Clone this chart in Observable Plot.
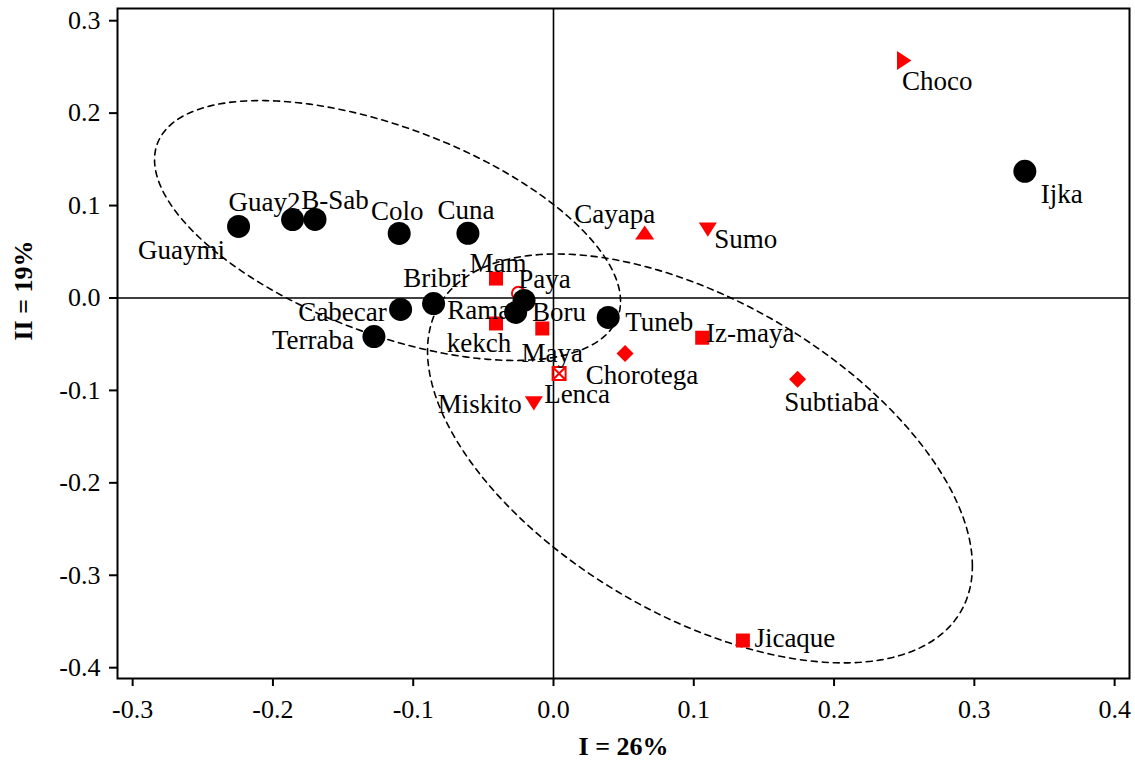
<!DOCTYPE html>
<html>
<head>
<meta charset="utf-8">
<script src="https://cdn.jsdelivr.net/npm/d3@7"></script>
<script src="https://cdn.jsdelivr.net/npm/@observablehq/plot@0.6"></script>
<style>
  html, body { margin: 0; padding: 0; background: #fff; }
  #chart svg { display: block; }
  #chart svg, #chart svg text { font-family: "Liberation Serif", "Times New Roman", Times, serif !important; }
</style>
</head>
<body>
<div id="chart"></div>
<script>
// ---- data ----
const names   = ["Guaymi","Guay2","B-Sab","Colo","Cuna","Cabecar","Bribri","Terraba","Rama","Boru","Tuneb","Ijka",
                 "Mam","Paya","kekch","Maya","Lenca","Miskito","Chorotega","Subtiaba","Iz-maya","Jicaque","Cayapa","Sumo","Choco"];
const xValues = [-0.2245,-0.186,-0.170,-0.110,-0.061,-0.109,-0.0855,-0.128,-0.027,-0.021,0.039,0.336,
                 -0.041,-0.025,-0.041,-0.008,0.004,-0.014,0.051,0.174,0.106,0.135,0.065,0.110,0.250];
const yValues = [0.0774,0.0849,0.085,0.0698,0.070,-0.0124,-0.006,-0.0417,-0.0157,-0.0027,-0.021,0.137,
                 0.021,0.005,-0.0276,-0.033,-0.0817,-0.114,-0.060,-0.088,-0.043,-0.3706,0.0709,0.074,0.257];
const groups  = ["circle","circle","circle","circle","circle","circle","circle","circle","circle","circle","circle","circle",
                 "square","openCircle","square","square","boxX","downTri","diamond","diamond","square","square","upTri","downTri","rightTri"];
// label placement relative to the marker (screen px)
const labelPlacement = [[-57,24],[-28,-17],[20,-19],[-2,-22],[-2,-23],[-58,3],[2,-25],[-61,4],[-37,-2],[35,12],[51,5],[37,23],
                        [2,-15],[26,-14],[-17,20],[10,25],[18,21],[-54,1],[17,22],[34,23],[48,-4],[52,-2],[-30,-18],[38,10],[33,21]];

const xTicks = [-0.3,-0.2,-0.1,0.0,0.1,0.2,0.3,0.4];
const yTicks = [-0.4,-0.3,-0.2,-0.1,0.0,0.1,0.2,0.3];
const xTitle = "I = 26%";
const yTitle = "II = 19%";

// dashed group ellipses: centre, half extents, correlation
const ellipseCenterX = [-0.1183, 0.1044];
const ellipseCenterY = [0.0730, -0.1736];
const ellipseRadiusX = [0.1661, 0.1942];
const ellipseRadiusY = [0.1406, 0.2212];
const ellipseCorr    = [-0.545, -0.526];

// ---- build tables ----
const rows = names.map((name, i) => ({name, x: xValues[i], y: yValues[i], group: groups[i]}));
const ellipsePts = [];
ellipseCenterX.forEach((cx, k) => {
  const cy = ellipseCenterY[k], rx = ellipseRadiusX[k], ry = ellipseRadiusY[k], rho = ellipseCorr[k];
  const s = Math.sqrt(1 - rho * rho);
  for (let j = 0; j <= 240; j++) {
    const t = (j / 240) * 2 * Math.PI;
    ellipsePts.push({id: k, x: cx + rx * Math.cos(t), y: cy + ry * (rho * Math.cos(t) + s * Math.sin(t))});
  }
});

// ---- custom symbols ----
const sym = fn => ({draw(ctx, size) { const r = Math.sqrt(size / Math.PI); fn(ctx, r); }});
const symbols = {
  square: sym((c, r) => { c.moveTo(-r,-r); c.lineTo(r,-r); c.lineTo(r,r); c.lineTo(-r,r); c.closePath(); }),
  diamond: sym((c, r) => { c.moveTo(0,-r); c.lineTo(r,0); c.lineTo(0,r); c.lineTo(-r,0); c.closePath(); }),
  upTri: sym((c, r) => { c.moveTo(0,-0.74*r); c.lineTo(r,0.74*r); c.lineTo(-r,0.74*r); c.closePath(); }),
  downTri: sym((c, r) => { c.moveTo(-r,-0.8*r); c.lineTo(r,-0.8*r); c.lineTo(0,0.8*r); c.closePath(); }),
  rightTri: sym((c, r) => { c.moveTo(-0.76*r,-r); c.lineTo(0.76*r,0); c.lineTo(-0.76*r,r); c.closePath(); }),
  boxX: sym((c, r) => { c.moveTo(-r,-r); c.lineTo(r,-r); c.lineTo(r,r); c.lineTo(-r,r); c.closePath();
                        c.moveTo(-r,-r); c.lineTo(r,r); c.moveTo(r,-r); c.lineTo(-r,r); })
};
const RED = "#ff0000";
const fmt = d => d.toFixed(1);
const font = "Liberation Serif";

const redDot = (g, r) => Plot.dot(rows.filter(d => d.group === g), {x: "x", y: "y", r, symbol: symbols[g], fill: RED, stroke: "none"});

const plot = Plot.plot({
  width: 1135,
  height: 761,
  marginLeft: 117,
  marginRight: 6,
  marginTop: 8,
  marginBottom: 83,
  x: {domain: [-0.3108, 0.4106]},
  y: {domain: [-0.4117, 0.3132]},
  style: {fontFamily: font, fontSize: "26px", background: "#fff", color: "#000"},
  marks: [
    Plot.ruleX([0], {stroke: "#000", strokeWidth: 1.6}),
    Plot.ruleY([0], {stroke: "#000", strokeWidth: 1.6}),
    Plot.line(ellipsePts, {x: "x", y: "y", z: "id", stroke: "#000", strokeWidth: 1.6, strokeDasharray: "6,5"}),
    Plot.axisX({ticks: xTicks, tickFormat: fmt, tickSize: 8, tickPadding: 13, strokeWidth: 2, fontSize: 26, fontFamily: font, label: null}),
    Plot.axisY({ticks: yTicks, tickFormat: fmt, tickSize: 8, tickPadding: 9, strokeWidth: 2, fontSize: 26, fontFamily: font, label: null}),
    Plot.frame({stroke: "#000", strokeWidth: 2}),
    redDot("square", 7),
    redDot("diamond", 8.5),
    redDot("upTri", 9.5),
    redDot("downTri", 9),
    redDot("rightTri", 9.5),
    Plot.dot(rows.filter(d => d.group === "boxX"), {x: "x", y: "y", r: 6.5, symbol: symbols.boxX, fill: "none", stroke: RED, strokeWidth: 2}),
    Plot.dot(rows.filter(d => d.group === "openCircle"), {x: "x", y: "y", r: 6.5, fill: "none", stroke: RED, strokeWidth: 2}),
    Plot.dot(rows.filter(d => d.group === "circle"), {x: "x", y: "y", r: 11.5, fill: "#000", stroke: "none"}),
    ...rows.map((d, i) => Plot.text([d], {x: "x", y: "y", text: "name", dx: labelPlacement[i][0], dy: labelPlacement[i][1],
                                          fontSize: 27, fontFamily: font, fill: "#000", textAnchor: "middle", lineAnchor: "middle"})),
    Plot.text([xTitle], {frameAnchor: "bottom", dy: 68, fontSize: 26, fontFamily: font, fontWeight: "bold", fill: "#000", lineAnchor: "middle"}),
    Plot.text([yTitle], {frameAnchor: "left", dx: -94, dy: -3, rotate: -90, fontSize: 26, fontFamily: font, fontWeight: "bold", fill: "#000", lineAnchor: "middle"})
  ]
});
document.getElementById("chart").appendChild(plot);
</script>
</body>
</html>
